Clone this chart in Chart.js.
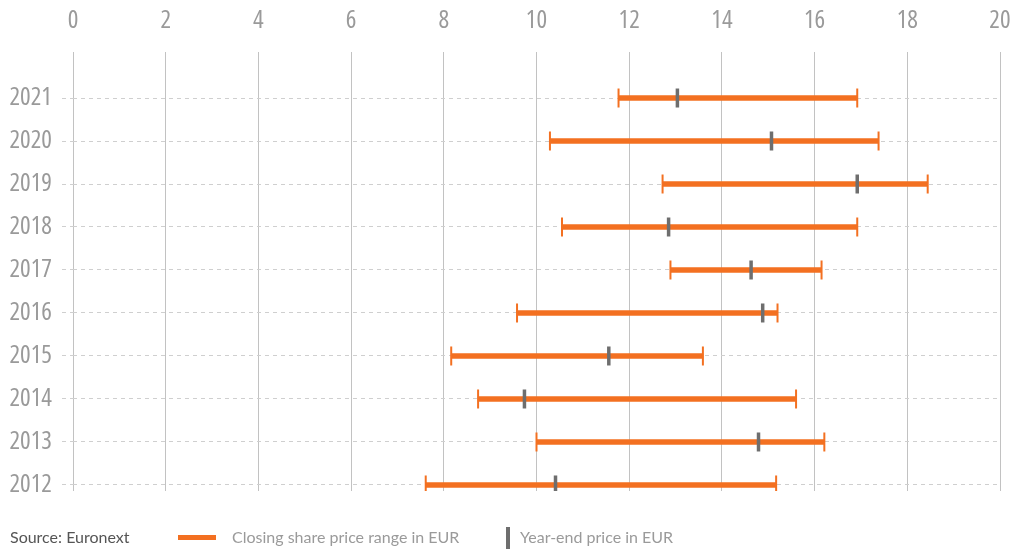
<!DOCTYPE html>
<html>
<head>
<meta charset="utf-8">
<script src="https://cdn.jsdelivr.net/npm/chart.js@4/dist/chart.umd.min.js"></script>
<style>
  html, body { margin: 0; padding: 0; background: #fff; }
  #wrap { position: relative; width: 1016px; height: 550px; }
  #chart { position: absolute; left: 0; top: 0; }
  .lg { position: absolute; font-family: Lato, "Open Sans", sans-serif; font-size: 16px; line-height: 20px; white-space: nowrap; }
  .src { left: 10px; top: 527px; color: #555; }
  .txt { color: #9a9a9a; }
  .swatch-range { position: absolute; left: 178px; top: 535px; width: 38px; height: 5px; background: #f37021; }
  .swatch-ye { position: absolute; left: 506px; top: 527px; width: 4px; height: 22px; background: #6e6e6e; }
</style>
</head>
<body>
<div id="wrap">
  <canvas id="chart" width="1016" height="550"></canvas>
  <div class="lg src">Source: Euronext</div>
  <div class="swatch-range"></div>
  <div class="lg txt" style="left:232px; top:527px;">Closing share price range in EUR</div>
  <div class="swatch-ye"></div>
  <div class="lg txt" style="left:520px; top:527px;">Year-end price in EUR</div>
</div>
<script>
// Data (bottom to top)
const years = ['2012', '2013', '2014', '2015', '2016', '2017', '2018', '2019', '2020', '2021'];
const lowPrice = [7.61, 10.0, 8.74, 8.16, 9.58, 12.89, 10.55, 12.72, 10.29, 11.77];
const highPrice = [15.17, 16.21, 15.6, 13.59, 15.2, 16.15, 16.92, 18.44, 17.38, 16.92];
const yearEndPrice = [10.41, 14.79, 9.74, 11.56, 14.88, 14.63, 12.85, 16.92, 15.07, 13.04];
const xTicks = [0, 2, 4, 6, 8, 10, 12, 14, 16, 18, 20];

const ORANGE = '#f37021';
const GREY = '#6e6e6e';
const tickFont = { family: "'Open Sans', Roboto, sans-serif", size: 25, weight: 400 };

const rangeData = years.map((y, i) => ({ x: [lowPrice[i], highPrice[i]], y: i }));
const capData = years.flatMap((y, i) => [{ x: lowPrice[i], y: i }, { x: highPrice[i], y: i }]);
const yearEndData = years.map((y, i) => ({ x: yearEndPrice[i], y: i }));

// narrow tick labels (canvas font-stretch, lost whenever the canvas resets)
const condensed = {
  id: 'condensed',
  beforeLayout: chart => { chart.ctx.fontStretch = 'condensed'; },
  beforeDraw: chart => { chart.ctx.fontStretch = 'condensed'; }
};

new Chart(document.getElementById('chart'), {
  type: 'bar',
  plugins: [condensed],
  data: {
    datasets: [
      {
        type: 'line',
        label: 'Year-end price in EUR',
        data: yearEndData,
        showLine: false,
        pointStyle: 'line',
        rotation: 90,
        radius: 9.5,
        borderWidth: 3.5,
        borderColor: GREY,
        order: 0
      },
      {
        type: 'line',
        label: 'caps',
        data: capData,
        showLine: false,
        pointStyle: 'line',
        rotation: 90,
        radius: 9.5,
        borderWidth: 2,
        borderColor: ORANGE,
        order: 1
      },
      {
        type: 'bar',
        label: 'Closing share price range in EUR',
        data: rangeData,
        indexAxis: 'y',
        backgroundColor: ORANGE,
        barThickness: 5,
        borderSkipped: false,
        order: 2
      }
    ]
  },
  options: {
    responsive: false,
    animation: false,
    indexAxis: 'y',
    layout: { padding: { left: 0, right: 16, top: 0, bottom: 59 } },
    plugins: {
      legend: { display: false },
      tooltip: { enabled: false }
    },
    scales: {
      x: {
        type: 'linear',
        position: 'top',
        min: 0,
        max: 20,
        afterBuildTicks: axis => { axis.ticks = xTicks.map(v => ({ value: v })); },
        afterFit: axis => { axis.height = 52; axis.paddingLeft = 0; axis.paddingRight = 0; },
        ticks: { color: '#9a9a9a', font: tickFont, padding: 16, maxRotation: 0 },
        grid: { color: '#c2c2c2', lineWidth: 1, drawTicks: false },
        border: { display: false }
      },
      y: {
        type: 'linear',
        min: -0.14,
        max: 10.07,
        offset: false,
        afterBuildTicks: axis => { axis.ticks = years.map((y, i) => ({ value: i })); },
        afterFit: axis => { axis.width = 73; axis.paddingTop = 0; axis.paddingBottom = 0; },
        ticks: {
          color: '#9a9a9a',
          font: tickFont,
          padding: 10,
          callback: v => years[v]
        },
        grid: {
          offset: false,
          color: '#cfcfcf',
          lineWidth: 1,
          tickLength: 11,
          tickColor: '#cfcfcf',
          tickBorderDash: [4, 4]
        },
        border: { display: false, dash: [4, 4] }
      }
    }
  }
});
</script>
</body>
</html>
